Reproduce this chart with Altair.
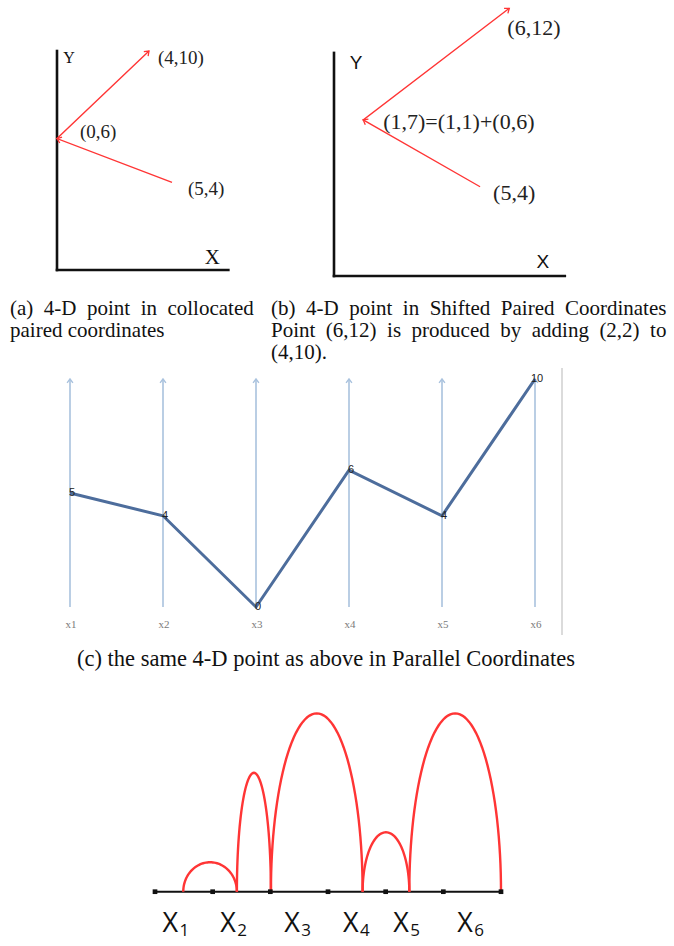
import math
import altair as alt
import numpy as np
import pandas as pd

W, H = 674, 946

# ---------------- data ----------------
# (a) collocated paired coordinates: path (5,4) -> (0,6) -> (4,10)
a_x = [5, 0, 4]
a_y = [4, 6, 10]
a_labels = ["(5,4)", "(0,6)", "(4,10)"]
a_axis_x_end = 7.45
a_axis_y_end = 10

# (b) shifted paired coordinates: path (5,4) -> (1,7) -> (6,12)
b_x = [5, 1, 6]
b_y = [4, 7, 12]
b_labels = ["(5,4)", "(1,7)=(1,1)+(0,6)", "(6,12)"]
b_axis_x_end = 7.9
b_axis_y_end = 10

# (c) parallel coordinates
c_axes = ["x1", "x2", "x3", "x4", "x5", "x6"]
c_values = [5, 4, 0, 6, 4, 10]
c_top = 10

# (d) arcs over a line
d_ticks = [0, 1, 2, 3, 4, 5, 6]
d_arc_start = [0.49, 1.42, 2.01, 3.60, 4.41]
d_arc_end = [1.42, 2.01, 3.60, 4.41, 6.00]
d_arc_height = [0.51, 2.06, 3.09, 1.03, 3.09]
d_label_main = ["X", "X", "X", "X", "X", "X"]
d_label_sub = ["1", "2", "3", "4", "5", "6"]
d_label_pos = [0.13, 1.13, 2.24, 3.26, 4.13, 5.24]

cap_a = ["(a) 4-D point in collocated", "paired coordinates"]
cap_b = ["(b) 4-D point in Shifted Paired Coordinates",
         "Point (6,12) is produced by adding (2,2) to",
         "(4,10)."]
cap_c = "(c) the same 4-D point as above in Parallel Coordinates"

# ---------------- helpers ----------------
SERIF = "Liberation Serif"
SANS = "Liberation Sans"
RED = "#ff3535"


def lin(domain, rng):
    d0, d1 = domain
    r0, r1 = rng
    return lambda v: r0 + (v - d0) * (r1 - r0) / (d1 - d0)


def heading(x0, y0, x1, y1):
    return math.degrees(math.atan2(x1 - x0, -(y1 - y0))) % 360


def scl(domain, rng):
    return alt.Scale(domain=domain, range=rng, nice=False, zero=False)


ARROW = "M -0.75 1 L 0 0 L 0.75 1"


def paired_panel(xs, ys, labels, offsets, xdom, xrng, ydom, yrng, x_end, y_end,
                 label_size, axis_names):
    sx, sy = scl(xdom, xrng), scl(ydom, yrng)
    px, py = lin(xdom, xrng), lin(ydom, yrng)
    X = lambda f: alt.X(f, type="quantitative", scale=sx, axis=None)
    Y = lambda f: alt.Y(f, type="quantitative", scale=sy, axis=None)
    layers = []
    axes_df = pd.DataFrame({"x": [0, 0], "y": [0, 0], "x2": [0, x_end], "y2": [y_end, 0]})
    layers.append(alt.Chart(axes_df).mark_rule(color="#111", strokeWidth=2.6, strokeCap="square")
                  .encode(x=X("x"), y=Y("y"), x2="x2", y2="y2"))
    path = pd.DataFrame({"x": xs, "y": ys, "o": list(range(len(xs)))})
    layers.append(alt.Chart(path).mark_line(color=RED, strokeWidth=1.4)
                  .encode(x=X("x"), y=Y("y"), order="o:Q"))
    heads = pd.DataFrame({
        "x": xs[1:], "y": ys[1:],
        "ang": [heading(px(xs[i]), py(ys[i]), px(xs[i + 1]), py(ys[i + 1]))
                for i in range(len(xs) - 1)]})
    layers.append(alt.Chart(heads).mark_point(shape=ARROW, size=70, filled=False, color=RED,
                                              strokeWidth=1.3, opacity=1)
                  .encode(x=X("x"), y=Y("y"), angle=alt.Angle("ang:Q", scale=None)))
    for xv, yv, lab, (dx, dy) in zip(xs, ys, labels, offsets):
        df = pd.DataFrame({"x": [xv], "y": [yv], "t": [lab]})
        layers.append(alt.Chart(df).mark_text(font=SERIF, fontSize=label_size, color="#222",
                                              align="left", baseline="middle", dx=dx, dy=dy)
                      .encode(x=X("x"), y=Y("y"), text="t:N"))
    for (name, xv, yv, dx, dy, font, size) in axis_names:
        df = pd.DataFrame({"x": [xv], "y": [yv], "t": [name]})
        layers.append(alt.Chart(df).mark_text(font=font, fontSize=size, color="#111",
                                              align="center", baseline="middle", dx=dx, dy=dy)
                      .encode(x=X("x"), y=Y("y"), text="t:N"))
    return layers


layers = []

# ---------------- panel (a) ----------------
layers += paired_panel(
    a_x, a_y, a_labels, [(16, 7), (23, -7), (9, 7)],
    [0, 5], [57, 172], [0, 10], [270, 51], a_axis_x_end, a_axis_y_end, 19,
    [("Y", 0, a_axis_y_end, 12, 7, SERIF, 16), ("X", a_axis_x_end, 0, -16, -12, SERIF, 21)])

# ---------------- panel (b) ----------------
layers += paired_panel(
    b_x, b_y, b_labels, [(13, 6), (20, 2), (-2, 20)],
    [0, 6], [334, 509.3], [0, 12], [276, 8.3], b_axis_x_end, b_axis_y_end, 22,
    [("Y", 0, b_axis_y_end, 22, 10, SANS, 19), ("X", b_axis_x_end, 0, -22, -14, SANS, 19)])

# ---------------- panel (c) ----------------
cx = alt.Scale(type="point", domain=c_axes, range=[70, 535], padding=0)
cy = scl([0, 10], [607, 379])
CX = alt.X("axis:N", scale=cx, axis=None)
CY = lambda f: alt.Y(f, type="quantitative", scale=cy, axis=None)
cdf = pd.DataFrame({"axis": c_axes, "v": c_values, "lo": [0] * 6, "hi": [c_top] * 6,
                    "o": list(range(6)), "t": [str(v) for v in c_values]})
layers.append(alt.Chart(cdf).mark_rule(color="#a9c2de", strokeWidth=1.6)
              .encode(x=CX, y=CY("lo"), y2="hi"))
layers.append(alt.Chart(cdf).mark_point(shape=ARROW, size=60, filled=False, color="#a9c2de",
                                        strokeWidth=1.4, opacity=1)
              .encode(x=CX, y=CY("hi")))
layers.append(alt.Chart(cdf).mark_line(color="#4d6d9c", strokeWidth=3)
              .encode(x=CX, y=CY("v"), order="o:Q"))
layers.append(alt.Chart(cdf).mark_text(font=SANS, fontSize=11, color="#222", dx=2)
              .encode(x=CX, y=CY("v"), text="t:N"))
layers.append(alt.Chart(cdf).mark_text(font=SERIF, fontSize=11, color="#7a7a7a", dy=18, dx=1)
              .encode(x=CX, y=CY("lo"), text="axis:N"))
layers.append(alt.Chart(pd.DataFrame({"k": [0]})).mark_rule(color="#cfcfcf", strokeWidth=1.5)
              .encode(x=alt.value(562), y=alt.value(368), y2=alt.value(635)))

# ---------------- panel (d) ----------------
dx_s = scl([0, 6], [155, 501])
dy_s = scl([0, 3], [891.7, 891.7 - 3 * 57.7])
DX = lambda f: alt.X(f, type="quantitative", scale=dx_s, axis=None)
DY = lambda f: alt.Y(f, type="quantitative", scale=dy_s, axis=None)
rows = []
for i, (s, e, h) in enumerate(zip(d_arc_start, d_arc_end, d_arc_height)):
    mid, half = (s + e) / 2, (e - s) / 2
    for j, t in enumerate(np.linspace(0, math.pi, 61)):
        rows.append({"arc": i, "o": j, "x": mid - half * math.cos(t), "y": h * math.sin(t)})
arcs = pd.DataFrame(rows)
tdf = pd.DataFrame({"x": d_ticks, "y": [0] * len(d_ticks)})
layers.append(alt.Chart(pd.DataFrame({"x": [d_ticks[0]], "x2": [d_ticks[-1]], "y": [0]}))
              .mark_rule(color="#111", strokeWidth=2).encode(x=DX("x"), x2="x2", y=DY("y")))
layers.append(alt.Chart(arcs).mark_line(color=RED, strokeWidth=2.4)
              .encode(x=DX("x"), y=DY("y"), detail="arc:N", order="o:Q"))
layers.append(alt.Chart(tdf).mark_square(size=22, color="#111", opacity=1)
              .encode(x=DX("x"), y=DY("y")))
ldf = pd.DataFrame({"x": d_label_pos, "y": [0] * 6, "m": d_label_main, "s": d_label_sub})
layers.append(alt.Chart(ldf).mark_text(font="Open Sans", fontSize=27, color="#111",
                                       align="left", baseline="alphabetic", dy=40)
              .encode(x=DX("x"), y=DY("y"), text="m:N"))
layers.append(alt.Chart(ldf).mark_text(font="Open Sans", fontSize=17, color="#111",
                                       align="left", baseline="alphabetic", dx=17, dy=44)
              .encode(x=DX("x"), y=DY("y"), text="s:N"))

# ---------------- captions ----------------
def spread(line, gaps):
    parts = line.split(" ")
    out = parts[0]
    for i, w in enumerate(parts[1:]):
        out += " " + ("\u00a0" if i in gaps else "") + w
    return out


def caption(text, x, y, align="left", size=21):
    return alt.Chart(pd.DataFrame({"t": [text]})).mark_text(
        font=SERIF, fontSize=size, color="#111", align=align, baseline="alphabetic"
    ).encode(x=alt.value(x), y=alt.value(y), text="t:N")


layers.append(caption(spread(cap_a[0], {0, 1, 2, 3}), 10, 315))
layers.append(caption(cap_a[1], 10, 337))
layers.append(caption(spread(cap_b[0], {0, 1, 2, 3, 4, 5}), 271, 315))
layers.append(caption(spread(cap_b[1], {0, 1, 2, 3, 4, 5, 6}), 271, 337))
layers.append(caption(cap_b[2], 271, 359))
layers.append(caption(cap_c, 326, 666, align="center", size=22.5))

chart = alt.layer(*layers).resolve_scale(x="independent", y="independent").properties(
    width=W, height=H, padding=0, autosize=alt.AutoSizeParams(type="none"),
    background="white"
).configure_view(stroke=None)

chart.save("out.html", embed_options={"renderer": "svg", "actions": False})
